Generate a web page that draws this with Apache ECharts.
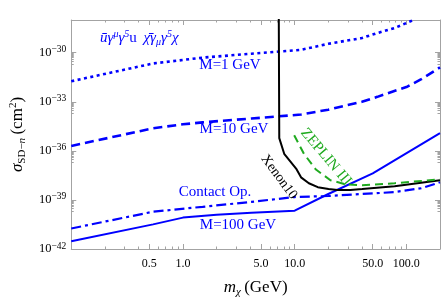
<!DOCTYPE html>
<html><head><meta charset="utf-8">
<script src="https://cdn.jsdelivr.net/npm/echarts@6/dist/echarts.min.js"></script>
<style>html,body{margin:0;padding:0;background:#fff}#c{width:445px;height:303px}</style>
</head><body><div id="c"></div>
<script>
// ---- data ----
const xMajorTicks = [0.5, 1, 5, 10, 50, 100];
const xMinorTicks = [0.2,0.3,0.4,0.6,0.7,0.8,0.9,2,3,4,6,7,8,9,20,30,40,60,70,80,90,200];
// y axis: decades (exponent of 10) of the cross-section, drawn on a log-spaced value axis
const yMajorExponents = [-42, -39, -36, -33, -30];
const yMinorExponents = [];
yMajorExponents.forEach(e => { for (let k = 2; k <= 9; k++) yMinorExponents.push(e - 1 + Math.log10(k)); });

const massM1   = [0.1, 0.54, 1.5, 4.1, 11.4, 20, 40, 55, 78, 96, 120];
const sigmaM1  = [1.8e-32, 2.2e-31, 5.0e-31, 8.7e-31, 1.5e-30, 3.5e-30, 7.9e-30, 1.6e-29, 3.2e-29, 5.8e-29, 1.1e-28];

const massM10  = [0.1, 0.54, 1.0, 1.5, 4.1, 11.4, 20, 40, 55, 78, 100, 136, 200];
const sigmaM10 = [2.0e-36, 2.4e-35, 4.2e-35, 5.5e-35, 9.5e-35, 1.66e-34, 3.3e-34, 1.0e-33, 2.0e-33, 4.6e-33, 7.9e-33, 2.4e-32, 1.26e-31];

const massContact  = [0.1, 0.54, 1.5, 4.1, 10, 20, 40, 78, 136, 200];
const sigmaContact = [1.8e-41, 1.9e-40, 3.8e-40, 7.6e-40, 1.5e-39, 1.74e-39, 2.3e-39, 3.0e-39, 5.2e-39, 1.2e-38];

const massM100  = [0.1, 0.54, 1.0, 2.0, 4.1, 10, 20, 50, 200];
const sigmaM100 = [3.0e-42, 3.2e-41, 8.3e-41, 1.26e-40, 1.66e-40, 2.2e-40, 2.3e-39, 4.2e-38, 1.2e-35];

const massXenon  = [7.2, 7.28, 8.06, 10.3, 11.4, 13.4, 16.1, 20.1, 24.2, 31.5, 40.2, 78.5, 200];
const sigmaXenon = [1e-27, 6.0e-36, 6.6e-37, 8.3e-38, 2.4e-38, 1.05e-38, 6.0e-39, 4.6e-39, 4.0e-39, 4.0e-39, 4.6e-39, 6.9e-39, 1.6e-38];

const massZeplin  = [9.9, 12.1, 15.5, 20.9, 28.4, 40.2, 78.5, 200];
const sigmaZeplin = [9.1e-36, 6.6e-37, 7.2e-38, 1.6e-38, 9.1e-39, 7.9e-39, 1.05e-38, 1.8e-38];

// ---- styling ----
const SERIF = '"Liberation Serif", "DejaVu Serif", serif';
const FRAME = '#a3a3a3';
const BLUE = '#0000ff';
const GREEN = '#1faa1f';

// y values are placed on the decade (log10) value axis
function pairs(xs, ys) { return xs.map((x, i) => [x, Math.log10(ys[i])]); }

function xAxisDef(pos, ticks, len, withLine, withLabels) {
  return {
    type: 'log', logBase: 10, min: 0.1, max: 200, position: pos,
    axisLine: { show: withLine, onZero: false, lineStyle: { color: FRAME, width: 1 } },
    axisTick: { show: true, inside: true, length: len, customValues: ticks, lineStyle: { color: FRAME, width: 1 } },
    axisLabel: withLabels ? {
      show: true, customValues: ticks, margin: 9, color: '#000', fontFamily: SERIF, fontSize: 12,
      formatter: v => Number(v).toFixed(1)
    } : { show: false },
    splitLine: { show: false }, minorTick: { show: false }, minorSplitLine: { show: false }
  };
}
function yAxisDef(pos, ticks, len, withLine, withLabels) {
  return {
    type: 'value', min: -42, max: -28, position: pos,
    axisLine: { show: withLine, onZero: false, lineStyle: { color: FRAME, width: 1 } },
    axisTick: { show: true, inside: true, length: len, customValues: ticks, lineStyle: { color: FRAME, width: 1 } },
    axisLabel: withLabels ? {
      show: true, customValues: ticks, margin: 5,
      formatter: v => '{b|10}{s|\u2212' + Math.round(-v) + '}',
      rich: {
        b: { fontFamily: SERIF, fontSize: 12.5, color: '#000', lineHeight: 16 },
        s: { fontFamily: SERIF, fontSize: 9.5, color: '#000', lineHeight: 8, verticalAlign: 'top' }
      }
    } : { show: false },
    splitLine: { show: false }, minorTick: { show: false }, minorSplitLine: { show: false }
  };
}

const xAxes = [
  xAxisDef('bottom', xMajorTicks, 5, true, true),
  xAxisDef('bottom', xMinorTicks, 2.5, false, false),
  xAxisDef('top', xMajorTicks, 5, true, false),
  xAxisDef('top', xMinorTicks, 2.5, false, false)
];
xAxes[0].name = '{i|m}{sub|\u03c7} {r|(GeV)}';
xAxes[0].nameLocation = 'middle';
xAxes[0].nameGap = 29;
xAxes[0].nameTextStyle = {
  rich: {
    i: { fontFamily: SERIF, fontStyle: 'italic', fontSize: 17, color: '#000', lineHeight: 20 },
    sub: { fontFamily: SERIF, fontStyle: 'italic', fontSize: 11, color: '#000', lineHeight: 10, verticalAlign: 'bottom' },
    r: { fontFamily: SERIF, fontSize: 17, color: '#000', lineHeight: 20 }
  }
};

const yAxes = [
  yAxisDef('left', yMajorExponents, 5, true, true),
  yAxisDef('left', yMinorExponents, 2.5, false, false),
  yAxisDef('right', yMajorExponents, 5, true, false),
  yAxisDef('right', yMinorExponents, 2.5, false, false)
];
yAxes[0].name = '{i|\u03c3}{sub|SD\u2212}{subi|n} {r|(cm}{sup|2}{r|)}';
yAxes[0].nameLocation = 'middle';
yAxes[0].nameRotate = 90;
yAxes[0].nameGap = 43;
yAxes[0].nameTextStyle = {
  rich: {
    i: { fontFamily: SERIF, fontStyle: 'italic', fontSize: 17, color: '#000', lineHeight: 20 },
    sub: { fontFamily: SERIF, fontSize: 11, color: '#000', lineHeight: 10, verticalAlign: 'bottom' },
    subi: { fontFamily: SERIF, fontStyle: 'italic', fontSize: 11, color: '#000', lineHeight: 10, verticalAlign: 'bottom' },
    r: { fontFamily: SERIF, fontSize: 17, color: '#000', lineHeight: 20 },
    sup: { fontFamily: SERIF, fontSize: 11, color: '#000', lineHeight: 10, verticalAlign: 'top' }
  }
};

function lineSeries(name, xs, ys, color, width, type) {
  return {
    name, type: 'line', data: pairs(xs, ys), xAxisIndex: 0, yAxisIndex: 0,
    showSymbol: false, symbol: 'none', smooth: false, clip: true, silent: true,
    lineStyle: { color, width, type, cap: 'butt' }, z: 3
  };
}

const labelFont = (size, style) => ({ fontFamily: SERIF, fontSize: size, fontStyle: style || 'normal' });

const chart = echarts.init(document.getElementById('c'), null, { renderer: 'canvas' });
chart.setOption({
  animation: false,
  backgroundColor: '#fff',
  grid: { left: 67, right: 5, top: 20, bottom: 53, containLabel: false },
  xAxis: xAxes,
  yAxis: yAxes,
  series: [
    lineSeries('M=1 GeV', massM1, sigmaM1, BLUE, 2.6, [3, 3.5]),
    lineSeries('M=10 GeV', massM10, sigmaM10, BLUE, 2.6, [9, 5]),
    lineSeries('Contact Op.', massContact, sigmaContact, BLUE, 2.2, [10, 4, 3, 4]),
    lineSeries('M=100 GeV', massM100, sigmaM100, BLUE, 2, 'solid'),
    lineSeries('Xenon10', massXenon, sigmaXenon, '#000', 2, 'solid'),
    lineSeries('ZEPLIN III', massZeplin, sigmaZeplin, GREEN, 2, [8, 5])
  ],
  graphic: [
    { type: 'text', x: 100, y: 38, z: 10, style: {
      text: '{i|\u016b\u03b3}{sup|\u03bc}{i|\u03b3}{sup|5}{r|u}  {i|\u03c7\u0304\u03b3}{sub|\u03bc}{i|\u03b3}{sup|5}{i|\u03c7}',
      align: 'left', verticalAlign: 'middle',
      rich: {
        i: Object.assign(labelFont(15, 'italic'), { fill: BLUE, lineHeight: 18 }),
        r: Object.assign(labelFont(15), { fill: BLUE, lineHeight: 18 }),
        sup: Object.assign(labelFont(10, 'italic'), { fill: BLUE, lineHeight: 9, verticalAlign: 'top' }),
        sub: Object.assign(labelFont(10, 'italic'), { fill: BLUE, lineHeight: 9, verticalAlign: 'bottom' })
      }
    } },
    { type: 'text', x: 230, y: 65, z: 10, style: Object.assign({ text: 'M=1 GeV', fill: BLUE, align: 'center', verticalAlign: 'middle' }, labelFont(15)) },
    { type: 'text', x: 234, y: 129, z: 10, style: Object.assign({ text: 'M=10 GeV', fill: BLUE, align: 'center', verticalAlign: 'middle' }, labelFont(15)) },
    { type: 'text', x: 215, y: 192, z: 10, style: Object.assign({ text: 'Contact Op.', fill: BLUE, align: 'center', verticalAlign: 'middle' }, labelFont(15)) },
    { type: 'text', x: 238, y: 225, z: 10, style: Object.assign({ text: 'M=100 GeV', fill: BLUE, align: 'center', verticalAlign: 'middle' }, labelFont(15)) },
    { type: 'text', x: 279, y: 177, rotation: -0.93, z: 10, style: Object.assign({ text: 'Xenon10', fill: '#000', align: 'center', verticalAlign: 'middle' }, labelFont(14)) },
    { type: 'text', x: 326, y: 157, rotation: -0.87, z: 10, style: Object.assign({ text: 'ZEPLIN III', fill: GREEN, align: 'center', verticalAlign: 'middle' }, labelFont(15)) }
  ]
});
</script></body></html>
